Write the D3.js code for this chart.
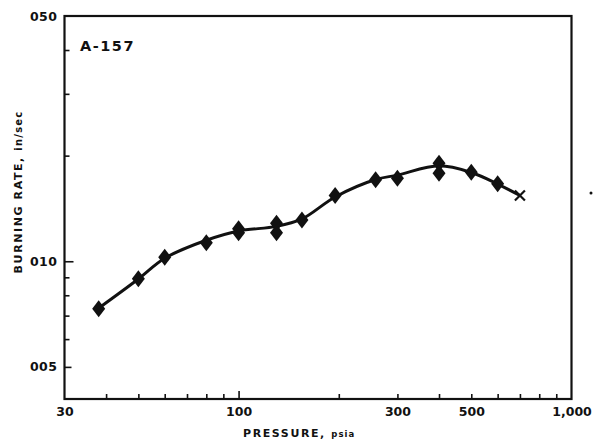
<!DOCTYPE html>
<html>
<head>
<meta charset="utf-8">
<script src="https://cdn.jsdelivr.net/npm/d3@7/dist/d3.min.js"></script>
<style>
  html, body { margin: 0; padding: 0; background: #fff; }
  svg { display: block; }
  text { font-family: "DejaVu Sans", "Liberation Sans", sans-serif; fill: #111; }
</style>
</head>
<body>
<svg id="chart" width="594" height="448"></svg>
<script>
// Burning rate of propellant A-157 versus chamber pressure (log-log)
const pressure = [38, 50, 60, 80, 100, 100, 130, 130, 155, 195, 258, 300, 400, 400, 500, 600];
const rate = [0.00732, 0.00891, 0.01027, 0.01130, 0.01238, 0.01206, 0.01284, 0.01205, 0.01312,
              0.01539, 0.01706, 0.01725, 0.01904, 0.01782, 0.01794, 0.01662];

// Extinction point marked with a cross
const crossPressure = [700];
const crossRate = [0.01539];

// Smoothed fit curve
const curvePressure = [38, 50, 60, 80, 100, 130, 155, 195, 258, 300, 400, 500, 600, 700];
const curveRate = [0.00735, 0.0089, 0.0102, 0.01148, 0.0122, 0.01257, 0.0132, 0.01525,
                   0.0171, 0.0176, 0.0187, 0.0179, 0.0166, 0.0154];

const xTickValues = [40, 50, 60, 70, 80, 90, 100, 200, 300, 400, 500, 600, 700, 800, 900];
const xLabelValues = [30, 100, 300, 500, 1000];
const xLabels = ["30", "100", "300", "500", "1,000"];

const yTickValues = [0.006, 0.007, 0.008, 0.009, 0.01, 0.02, 0.03, 0.04];
const yLabelValues = [0.05, 0.01, 0.005];
const yLabels = ["050", "010", "005"];

const svg = d3.select("#chart");
const plotLeft = 64.5, plotRight = 571.5, plotTop = 16, plotBottom = 399;

const x = d3.scaleLog().domain([30, 1000]).range([plotLeft, plotRight]);
const y = d3.scaleLog().domain([0.00405, 0.05]).range([plotBottom, plotTop]);

// Frame
svg.append("rect")
  .attr("x", plotLeft).attr("y", plotTop)
  .attr("width", plotRight - plotLeft).attr("height", plotBottom - plotTop)
  .attr("fill", "none").attr("stroke", "#111").attr("stroke-width", 2.2);

// X ticks (pointing inward)
const xAxis = svg.append("g")
  .attr("transform", `translate(0,${plotBottom})`)
  .call(d3.axisBottom(x).tickValues(xTickValues).tickSize(-5).tickFormat(""));
xAxis.select(".domain").remove();
xAxis.selectAll(".tick line")
  .attr("stroke", "#111").attr("stroke-width", 1.6)
  .attr("y2", d => d === 100 ? -8 : -5);

// X labels
const xLab = svg.append("g")
  .attr("transform", `translate(0,${plotBottom})`)
  .call(d3.axisBottom(x).tickValues(xLabelValues).tickSize(0).tickPadding(8)
    .tickFormat((d, i) => xLabels[i]));
xLab.select(".domain").remove();
xLab.selectAll("text")
  .attr("font-size", 12.5).attr("font-weight", "bold")
  .style("font-family", "'DejaVu Sans', sans-serif").attr("fill", "#111");

// Y ticks (pointing inward)
const yAxis = svg.append("g")
  .attr("transform", `translate(${plotLeft},0)`)
  .call(d3.axisLeft(y).tickValues(yTickValues).tickSize(-5).tickFormat(""));
yAxis.select(".domain").remove();
yAxis.selectAll(".tick line")
  .attr("stroke", "#111").attr("stroke-width", 1.6)
  .attr("x2", d => d === 0.01 ? 9 : 5);

// Y labels
const yLab = svg.append("g")
  .attr("transform", `translate(${plotLeft},0)`)
  .call(d3.axisLeft(y).tickValues(yLabelValues).tickSize(0).tickPadding(7)
    .tickFormat((d, i) => yLabels[i]));
yLab.select(".domain").remove();
yLab.selectAll("text")
  .attr("font-size", 12.5).attr("font-weight", "bold")
  .attr("letter-spacing", 0.5)
  .style("font-family", "'DejaVu Sans', sans-serif").attr("fill", "#111");
yLab.selectAll(".tick").filter(d => d === 0.005).append("line")
  .attr("x1", 0).attr("x2", 7).attr("stroke", "#111").attr("stroke-width", 1.6);

// Fit curve
const line = d3.line()
  .x(d => x(d[0]))
  .y(d => y(d[1]))
  .curve(d3.curveCatmullRom.alpha(0.5));
svg.append("path")
  .datum(curvePressure.map((p, i) => [p, curveRate[i]]))
  .attr("d", line)
  .attr("fill", "none").attr("stroke", "#111")
  .attr("stroke-width", 3).attr("stroke-linejoin", "round");

// Diamond markers
const dw = 6.5, dh = 8.5;
svg.append("g").selectAll("path")
  .data(pressure.map((p, i) => [p, rate[i]]))
  .join("path")
  .attr("d", d => {
    const cx = x(d[0]), cy = y(d[1]);
    return `M${cx},${cy - dh}L${cx + dw},${cy}L${cx},${cy + dh}L${cx - dw},${cy}Z`;
  })
  .attr("fill", "#111");

// Cross marker
svg.append("g").selectAll("path")
  .data(crossPressure.map((p, i) => [p, crossRate[i]]))
  .join("path")
  .attr("d", d => {
    const cx = x(d[0]), cy = y(d[1]), s = 5;
    return `M${cx - s},${cy - s}L${cx + s},${cy + s}M${cx - s},${cy + s}L${cx + s},${cy - s}`;
  })
  .attr("stroke", "#111").attr("stroke-width", 2.2).attr("fill", "none");

// Propellant identifier
svg.append("text")
  .attr("x", 80).attr("y", 51)
  .attr("font-size", 14.5).attr("font-weight", "bold")
  .attr("letter-spacing", 1.5)
  .text("A-157");

// Axis titles
const xt = svg.append("text")
  .attr("x", 243).attr("y", 437)
  .attr("font-weight", "bold").attr("letter-spacing", 1.6);
xt.append("tspan").attr("font-size", 11).text("PRESSURE, ");
xt.append("tspan").attr("font-size", 8.5).attr("letter-spacing", 1).text("psia");

const yt = svg.append("text")
  .attr("transform", "translate(22,192) rotate(-90)")
  .attr("text-anchor", "middle")
  .attr("font-weight", "bold").attr("letter-spacing", 1.6);
yt.append("tspan").attr("font-size", 11).text("BURNING RATE, ");
yt.append("tspan").attr("font-size", 10).attr("letter-spacing", 1.2).text("in/sec");

// Stray dot to the right of the frame
svg.append("circle").attr("cx", 591).attr("cy", 193).attr("r", 1.5).attr("fill", "#111");
</script>
</body>
</html>
